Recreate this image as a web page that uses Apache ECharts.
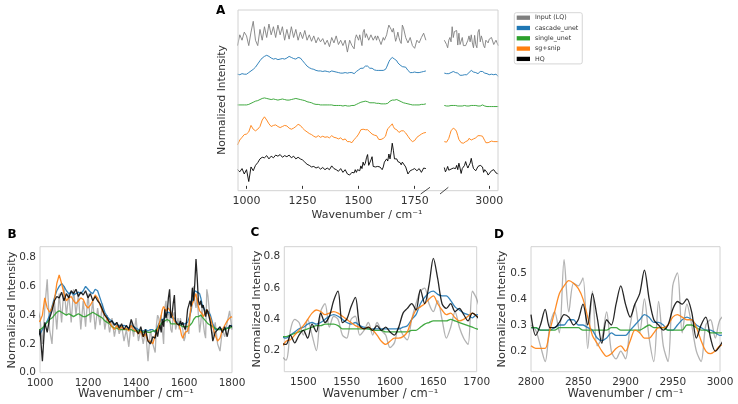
<!DOCTYPE html>
<html>
<head>
<meta charset="utf-8">
<script src="https://cdn.jsdelivr.net/npm/echarts@6/dist/echarts.min.js"></script>
<style>html,body{margin:0;padding:0;background:#fff;}#c{width:738px;height:404px;}</style>
</head>
<body>
<div id="c"></div>
<script>
// ---------- DATA ----------
const seriesNames = ['Input (LQ)', 'cascade_unet', 'single_unet', 'sg+snip', 'HQ'];

// fingerprint region wavenumbers
const wnFP = [960,970,980,990,
1000,1010,1020,1030,1040,1050,1060,1070,1080,1090,
1100,1110,1120,1130,1140,1150,1160,1170,1180,1190,
1200,1210,1220,1230,1240,1250,1260,1270,1280,1290,
1300,1310,1320,1330,1340,1350,1360,1370,1380,1390,
1400,1410,1420,1430,1440,1450,1460,1470,
1480,1485,1490,1495,1500,1505,1510,1515,1520,1525,
1530,1535,1540,1545,1550,1555,1560,1565,1570,1575,
1580,1585,1590,1595,1600,1605,1610,1615,1620,1625,
1630,1635,1640,1645,1650,1655,1660,1665,1670,1675,
1680,1685,1690,1695,1700,
1710,1720,1730,1740,1750,1760,1770,1780,1790,1800];

const inputFP = [0.20,0.40,0.30,0.45,
0.38,0.20,0.45,0.65,0.30,0.20,0.50,0.30,0.55,0.35,
0.60,0.40,0.55,0.35,0.58,0.40,0.55,0.30,0.50,0.32,
0.55,0.35,0.50,0.30,0.45,0.33,0.48,0.30,0.40,0.28,
0.38,0.25,0.35,0.27,0.33,0.22,0.30,0.18,0.35,0.25,
0.38,0.22,0.30,0.20,0.30,0.08,0.30,0.20,
0.14,0.33,0.40,0.38,0.30,0.40,0.30,0.20,0.45,0.50,
0.35,0.42,0.40,0.30,0.28,0.40,0.42,0.30,0.33,0.38,
0.30,0.38,0.33,0.30,0.22,0.25,0.35,0.30,0.27,0.40,
0.50,0.58,0.60,0.50,0.45,0.52,0.40,0.28,0.35,0.45,
0.35,0.28,0.24,0.58,0.53,
0.35,0.25,0.35,0.20,0.15,0.30,0.25,0.35,0.43,0.30];

const cascadeFP = [0.27,0.26,0.28,0.27,
0.27,0.30,0.33,0.36,0.40,0.46,0.52,0.57,0.60,0.62,
0.60,0.57,0.55,0.56,0.54,0.55,0.56,0.55,0.57,0.60,
0.58,0.56,0.55,0.58,0.57,0.52,0.47,0.42,0.39,0.37,
0.36,0.34,0.33,0.33,0.32,0.33,0.32,0.31,0.33,0.32,
0.31,0.30,0.29,0.29,0.30,0.29,0.30,0.30,
0.28,0.30,0.32,0.34,0.35,0.37,0.38,0.37,0.38,0.40,
0.42,0.43,0.42,0.40,0.38,0.37,0.38,0.36,0.35,0.34,
0.34,0.34,0.34,0.34,0.34,0.34,0.34,0.35,0.36,0.40,
0.43,0.50,0.54,0.57,0.58,0.56,0.55,0.55,0.52,0.48,
0.46,0.44,0.43,0.41,0.43,
0.40,0.34,0.30,0.30,0.31,0.30,0.30,0.31,0.32,0.33];

const singleFP = [0.30,0.30,0.30,0.30,
0.30,0.31,0.33,0.35,0.37,0.38,0.40,0.42,0.43,0.42,
0.41,0.40,0.41,0.40,0.39,0.40,0.41,0.40,0.39,0.39,
0.40,0.41,0.42,0.41,0.40,0.39,0.38,0.36,0.35,0.34,
0.32,0.31,0.31,0.30,0.30,0.30,0.30,0.30,0.30,0.29,
0.29,0.29,0.29,0.28,0.29,0.28,0.28,0.29,
0.29,0.30,0.31,0.32,0.33,0.34,0.35,0.36,0.36,0.37,
0.37,0.37,0.36,0.34,0.34,0.34,0.34,0.34,0.34,0.34,
0.33,0.33,0.33,0.32,0.32,0.32,0.32,0.32,0.32,0.33,
0.33,0.35,0.37,0.38,0.39,0.39,0.39,0.39,0.40,0.39,
0.38,0.37,0.36,0.35,0.34,
0.33,0.32,0.31,0.30,0.30,0.30,0.30,0.31,0.31,0.32];

const sgsnipFP = [0.16,0.25,0.30,0.35,
0.36,0.40,0.52,0.45,0.42,0.45,0.50,0.62,0.68,0.62,
0.55,0.50,0.52,0.53,0.50,0.48,0.50,0.52,0.51,0.47,
0.45,0.47,0.50,0.54,0.52,0.47,0.43,0.40,0.37,0.35,
0.32,0.30,0.33,0.30,0.32,0.30,0.31,0.29,0.33,0.30,
0.29,0.27,0.29,0.25,0.27,0.22,0.22,0.20,
0.26,0.27,0.30,0.33,0.36,0.40,0.44,0.46,0.45,0.43,
0.44,0.45,0.44,0.42,0.40,0.38,0.36,0.35,0.34,0.35,
0.33,0.30,0.26,0.24,0.26,0.28,0.28,0.29,0.32,0.40,
0.46,0.48,0.50,0.53,0.55,0.50,0.46,0.43,0.44,0.41,
0.39,0.40,0.42,0.44,0.42,
0.38,0.32,0.26,0.22,0.24,0.30,0.33,0.36,0.38,0.39];

const hqFP = [0.30,0.26,0.32,0.22,
0.30,0.08,0.35,0.28,0.38,0.43,0.50,0.53,0.52,0.56,
0.50,0.55,0.52,0.57,0.55,0.58,0.53,0.56,0.54,0.57,
0.52,0.55,0.50,0.53,0.50,0.48,0.44,0.40,0.38,0.35,
0.36,0.33,0.35,0.31,0.34,0.30,0.33,0.30,0.37,0.32,
0.30,0.27,0.32,0.25,0.30,0.22,0.20,0.25,
0.24,0.30,0.25,0.30,0.33,0.28,0.37,0.32,0.44,0.38,
0.42,0.52,0.58,0.38,0.40,0.48,0.54,0.36,0.34,0.35,
0.33,0.36,0.33,0.35,0.32,0.30,0.35,0.44,0.47,0.50,
0.46,0.59,0.50,0.62,0.79,0.66,0.50,0.47,0.50,0.45,
0.47,0.43,0.39,0.44,0.42,
0.35,0.22,0.28,0.30,0.32,0.28,0.32,0.25,0.33,0.32];

// C-H stretch region wavenumbers
const wnCH = [2800,2805,2810,2815,2820,2825,2830,2835,2840,2845,
2850,2855,2860,2865,2870,2875,2880,2885,2890,2895,
2900,2905,2910,2915,2920,2925,2930,2935,2940,2945,
2950,2955,2960,2965,2970,2975,2980,2985,2990,2995,
3000,3010,3020,3030,3040];

const inputCH = [0.30,0.28,0.22,0.16,0.30,0.35,0.27,0.55,0.35,0.46,
0.45,0.48,0.21,0.43,0.22,0.25,0.35,0.20,0.17,0.20,
0.17,0.30,0.38,0.27,0.40,0.25,0.16,0.39,0.22,0.16,
0.45,0.50,0.27,0.38,0.30,0.20,0.16,0.30,0.32,0.25,
0.32,0.35,0.22,0.30,0.20];

const cascadeCH = [0.29,0.29,0.28,0.28,0.28,0.29,0.30,0.30,0.32,0.32,
0.30,0.30,0.29,0.28,0.25,0.24,0.25,0.27,0.26,0.26,
0.26,0.28,0.30,0.32,0.34,0.33,0.31,0.31,0.30,0.28,
0.28,0.30,0.32,0.33,0.32,0.30,0.29,0.28,0.28,0.27,
0.26,0.27,0.26,0.27,0.23];

const singleCH = [0.29,0.29,0.28,0.28,0.28,0.28,0.29,0.29,0.29,0.29,
0.29,0.28,0.28,0.28,0.28,0.28,0.28,0.29,0.29,0.28,
0.28,0.28,0.28,0.28,0.29,0.30,0.29,0.29,0.29,0.28,
0.28,0.28,0.28,0.30,0.30,0.29,0.28,0.28,0.27,0.27,
0.27,0.27,0.27,0.27,0.27];

const sgsnipCH = [0.22,0.21,0.21,0.21,0.28,0.35,0.42,0.45,0.47,0.46,
0.44,0.40,0.33,0.26,0.23,0.20,0.18,0.19,0.21,0.22,
0.20,0.24,0.28,0.27,0.25,0.25,0.27,0.29,0.29,0.30,
0.33,0.34,0.33,0.32,0.32,0.29,0.24,0.20,0.19,0.20,
0.22,0.23,0.22,0.22,0.22];

const hqCH = [0.34,0.26,0.30,0.36,0.29,0.29,0.31,0.34,0.33,0.30,
0.32,0.38,0.30,0.42,0.33,0.23,0.32,0.30,0.38,0.45,
0.38,0.33,0.38,0.42,0.51,0.40,0.32,0.30,0.28,0.30,
0.36,0.39,0.38,0.40,0.35,0.25,0.30,0.33,0.25,0.20,
0.22,0.28,0.30,0.24,0.22];

// stacking offsets of panel A
const offsetsA = [2.4, 1.8, 1.2, 0.6, 0.0];

// tick labels
const ticksAleft = [1000, 1250, 1500, 1750];
const ticksAright = [3000];
const ticksBx = [1000, 1200, 1400, 1600, 1800];
const ticksBy = [0.0, 0.2, 0.4, 0.6, 0.8];
const ticksCx = [1500, 1550, 1600, 1650, 1700];
const ticksCy = [0.2, 0.4, 0.6, 0.8];
const ticksDx = [2800, 2850, 2900, 2950, 3000];
const ticksDy = [0.2, 0.3, 0.4, 0.5];

// ---------- CHART ----------
const colors = ['#7f7f7f', '#1f77b4', '#2ca02c', '#ff7f0e', '#000000'];
const fpData = [inputFP, cascadeFP, singleFP, sgsnipFP, hqFP];
const chData = [inputCH, cascadeCH, singleCH, sgsnipCH, hqCH];
fpData.forEach((a,i)=>{ if(a.length!==wnFP.length) console.error('FP length', i, a.length); });
chData.forEach((a,i)=>{ if(a.length!==wnCH.length) console.error('CH length', i, a.length); });

const FONT = 'DejaVu Sans';
const TXT = '#333333';
const FRAME = '#d2d2d2';
const TICKFS = 10.5;

function pairs(xs, ys, off) { return xs.map((x, i) => [x, ys[i] + (off || 0)]); }

const series = [];
for (let i = 0; i < 5; i++) {
  series.push({type:'line', name:seriesNames[i], xAxisIndex:0, yAxisIndex:0, data:pairs(wnFP, fpData[i], offsetsA[i]),
    showSymbol:false, color:colors[i], lineStyle:{width:0.9, color:colors[i]}, z: 2+i});
  series.push({type:'line', name:seriesNames[i], xAxisIndex:1, yAxisIndex:1, data:pairs(wnCH, chData[i], offsetsA[i]),
    showSymbol:false, color:colors[i], lineStyle:{width:0.9, color:colors[i]}, z: 2+i});
}
const opB = [0.6, 0.9, 0.9, 0.9, 0.85];
for (let i = 0; i < 5; i++) {
  series.push({type:'line', name:seriesNames[i], xAxisIndex:2, yAxisIndex:2, data:pairs(wnFP, fpData[i]),
    showSymbol:false, color:colors[i], lineStyle:{width:1.3, color:colors[i], opacity:opB[i]}, z: 2+i});
  series.push({type:'line', name:seriesNames[i], xAxisIndex:3, yAxisIndex:3, data:pairs(wnFP, fpData[i]),
    showSymbol:false, smooth:0.3, color:colors[i], lineStyle:{width:1.3, color:colors[i], opacity:opB[i]}, z: 2+i});
  series.push({type:'line', name:seriesNames[i], xAxisIndex:4, yAxisIndex:4, data:pairs(wnCH, chData[i]),
    showSymbol:false, smooth:0.3, color:colors[i], lineStyle:{width:1.3, color:colors[i], opacity:opB[i]}, z: 2+i});
}

function xAx(gi, min, max, ticks, fs, showTick) {
  return {type:'value', gridIndex:gi, min:min, max:max,
    axisLine:{show:false}, splitLine:{show:false},
    axisTick:{show:!!showTick, length:3, inside:false, customValues:ticks, lineStyle:{color:TXT, width:1}},
    axisLabel:{customValues:ticks, fontSize:fs, color:TXT, fontFamily:FONT, margin:5, formatter:(v)=>String(Math.round(v))}};
}
function yAx(gi, min, max, ticks) {
  if (!ticks) return {type:'value', gridIndex:gi, min:min, max:max, axisLine:{show:false}, axisTick:{show:false}, axisLabel:{show:false}, splitLine:{show:false}};
  return {type:'value', gridIndex:gi, min:min, max:max,
    axisLine:{show:false}, splitLine:{show:false}, axisTick:{show:false},
    axisLabel:{customValues:ticks, fontSize:TICKFS, color:TXT, fontFamily:FONT, margin:4, formatter:(v)=>v.toFixed(1)}};
}

const gridFrame = {show:true, borderColor:FRAME, borderWidth:1, backgroundColor:'transparent', outerBoundsMode:'none', containLabel:false};
const gridPlain = {show:false, outerBoundsMode:'none', containLabel:false};

function txt(x, y, text, size) {
  return {type:'text', x:x, y:y, silent:true,
    style:{text:text, fontSize:size, fontFamily:FONT, fill:TXT, align:'center', verticalAlign:'middle'}};
}
function ytxt(x, y, text, size) {
  return {type:'text', x:x, y:y, rotation:Math.PI/2, silent:true,
    style:{text:text, fontSize:size, fontFamily:FONT, fill:TXT, align:'center', verticalAlign:'middle'}};
}
function bold(x, y, text) {
  return {type:'text', x:x, y:y, silent:true,
    style:{text:text, fontSize:12, fontWeight:'bold', fontFamily:FONT, fill:'#000', align:'center', verticalAlign:'middle'}};
}

const XL = 'Wavenumber / cm\u207B\u00B9';
const YL = 'Normalized Intensity';

const option = {
  animation:false,
  backgroundColor:'#ffffff',
  textStyle:{fontFamily:FONT},
  grid:[
    Object.assign({left:238, top:10, width:189, height:180.7}, gridPlain),
    Object.assign({left:444.3, top:10, width:53.7, height:180.7}, gridPlain),
    Object.assign({left:40, top:246.7, width:192, height:126}, gridFrame),
    Object.assign({left:284.3, top:246.7, width:192.4, height:125}, gridFrame),
    Object.assign({left:531, top:246.7, width:189, height:125}, gridFrame)
  ],
  xAxis:[
    xAx(0, 962, 1805, ticksAleft, 11, true),
    xAx(1, 2800, 3039, ticksAright, 11, true),
    xAx(2, 1000, 1800, ticksBx, TICKFS, false),
    xAx(3, 1478, 1700, ticksCx, TICKFS, false),
    xAx(4, 2800, 3000, ticksDx, TICKFS, false)
  ],
  yAxis:[
    yAx(0, -0.09, 3.26, null),
    yAx(1, -0.09, 3.26, null),
    yAx(2, 0, 0.876, ticksBy),
    yAx(3, 0.066, 0.864, ticksCy),
    yAx(4, 0.121, 0.6, ticksDy)
  ],
  legend:{
    data:seriesNames, orient:'vertical', left:514.3, top:12.7,
    icon:'rect', itemWidth:13.3, itemHeight:4.3, itemGap:2.3,
    padding:[1, 4, 1, 2.4], borderColor:'#cccccc', borderWidth:0.8, borderRadius:2,
    backgroundColor:'#ffffff',
    textStyle:{fontSize:6.3, lineHeight:8, color:TXT, fontFamily:FONT},
    selectedMode:false
  },
  graphic:[
    {type:'rect', shape:{x:238, y:10, width:260, height:180.7}, silent:true, z:10,
      style:{fill:'none', stroke:FRAME, lineWidth:1}},
    {type:'line', shape:{x1:420.7, y1:194, x2:430, y2:187.3}, silent:true, z:11, style:{stroke:'#333', lineWidth:0.9}},
    {type:'line', shape:{x1:440, y1:194, x2:448.3, y2:187.3}, silent:true, z:11, style:{stroke:'#333', lineWidth:0.9}},
    bold(220.7, 11, 'A'),
    bold(12, 235, 'B'),
    bold(255, 233, 'C'),
    bold(499, 235, 'D'),
    ytxt(222.7, 100, YL, 10.6),
    txt(367, 215, XL, 11),
    ytxt(12.3, 310, YL, 11.3),
    txt(136, 394, XL, 11.5),
    ytxt(257.3, 309, YL, 11.3),
    txt(380.5, 394, XL, 11.5),
    ytxt(501.7, 309, YL, 11.3),
    txt(625.5, 394, XL, 11.5)
  ],
  series:series
};

const chart = echarts.init(document.getElementById('c'), null, {renderer:'canvas'});
chart.setOption(option);
</script>
</body>
</html>
